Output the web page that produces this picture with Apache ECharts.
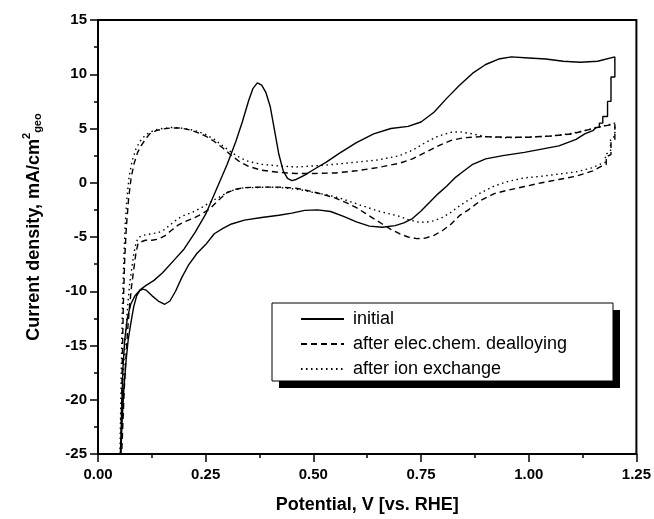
<!DOCTYPE html>
<html>
<head>
<meta charset="UTF-8">
<title>CV curves</title>
<script src="https://cdn.jsdelivr.net/npm/echarts/dist/echarts.min.js"></script>
<style>
  html, body { margin: 0; padding: 0; background: #fff; }
  #chart { width: 654px; height: 519px; }
</style>
</head>
<body>
<div id="chart"></div>
<script>
// Potential (V vs RHE) and current density (mA/cm2), one closed loop per curve
var initialE = [0.052, 0.055, 0.058, 0.062, 0.068, 0.076, 0.086, 0.097, 0.11, 0.13, 0.15, 0.175, 0.2, 0.225, 0.25, 0.275, 0.3, 0.32, 0.335, 0.35, 0.36, 0.37, 0.38, 0.39, 0.4, 0.41, 0.42, 0.43, 0.44, 0.45, 0.46, 0.48, 0.5, 0.53, 0.56, 0.6, 0.64, 0.68, 0.72, 0.75, 0.78, 0.81, 0.84, 0.87, 0.9, 0.93, 0.96, 1.0, 1.04, 1.08, 1.12, 1.16, 1.2,
  1.2, 1.191, 1.191, 1.183, 1.183, 1.172, 1.172, 1.164, 1.164, 1.156, 1.149,
  1.13, 1.11, 1.07, 1.03, 0.99, 0.94, 0.9, 0.87, 0.85, 0.83, 0.81, 0.79, 0.77, 0.75, 0.73, 0.71, 0.69, 0.66, 0.63, 0.6, 0.57, 0.54, 0.51, 0.48, 0.45, 0.42, 0.38, 0.34, 0.31, 0.29, 0.27, 0.25, 0.23, 0.21, 0.195, 0.18, 0.167, 0.155, 0.14, 0.125, 0.112, 0.104, 0.097, 0.09, 0.083, 0.076, 0.07, 0.065, 0.06, 0.056, 0.053];
var initialJ = [-25, -21, -17, -14.5, -12.5, -11.2, -10.4, -9.9, -9.5, -9.0, -8.3, -7.2, -6.1, -4.6, -2.9, -0.6, 1.7, 3.8, 5.6, 7.6, 8.7, 9.2, 9.0, 8.3, 7.0, 4.8, 2.6, 1.1, 0.4, 0.2, 0.3, 0.7, 1.2, 1.9, 2.7, 3.7, 4.5, 5.0, 5.2, 5.6, 6.5, 7.8, 9.0, 10.1, 10.9, 11.4, 11.6, 11.5, 11.4, 11.2, 11.1, 11.2, 11.6,
  9.75, 9.75, 7.5, 7.5, 6.1, 6.1, 5.5, 5.5, 5.1, 5.1, 4.8,
  4.5, 4.0, 3.4, 3.1, 2.8, 2.5, 2.2, 1.7, 1.1, 0.5, -0.3, -1.0, -1.8, -2.6, -3.3, -3.7, -3.95, -4.1, -4.0, -3.6, -3.1, -2.65, -2.5, -2.55, -2.8, -3.0, -3.2, -3.45, -3.8, -4.2, -4.7, -5.7, -6.5, -7.6, -8.7, -10.0, -10.9, -11.2, -10.9, -10.4, -9.9, -9.8, -9.95, -10.4, -11.4, -13.0, -14.5, -16.5, -19, -22, -25];

var dealloyE = [0.053, 0.055, 0.057, 0.059, 0.062, 0.066, 0.071, 0.077, 0.084, 0.092, 0.1, 0.11, 0.12, 0.135, 0.15, 0.17, 0.19, 0.21, 0.23, 0.25, 0.27, 0.29, 0.31, 0.33, 0.35, 0.38, 0.42, 0.46, 0.5, 0.55, 0.6, 0.65, 0.7, 0.73, 0.76, 0.79, 0.82, 0.85, 0.89, 0.95, 1.0, 1.05, 1.1, 1.14, 1.17, 1.2,
  1.2, 1.191, 1.191, 1.18, 1.18, 1.168, 1.149,
  1.11, 1.07, 1.03, 0.99, 0.95, 0.92, 0.89, 0.86, 0.84, 0.82, 0.8, 0.78, 0.76, 0.74, 0.72, 0.7, 0.68, 0.66, 0.64, 0.62, 0.6, 0.58, 0.55, 0.52, 0.49, 0.46, 0.42, 0.38, 0.34, 0.32, 0.3, 0.28, 0.26, 0.24, 0.22, 0.2, 0.186, 0.17, 0.155, 0.14, 0.125, 0.11, 0.1, 0.093, 0.088, 0.083, 0.078, 0.073, 0.069, 0.065, 0.061, 0.058, 0.055];
var dealloyJ = [-25, -20, -15, -11, -7, -4, -1.5, 0.5, 1.8, 2.8, 3.4, 4.0, 4.5, 4.8, 4.95, 5.05, 5.05, 4.9, 4.65, 4.3, 3.8, 3.2, 2.5, 1.9, 1.5, 1.15, 0.95, 0.85, 0.85, 0.9, 1.1, 1.4, 1.8, 2.2, 2.8, 3.4, 3.9, 4.15, 4.25, 4.2, 4.2, 4.3, 4.5, 4.9, 5.2, 5.4,
  4.0, 3.7, 2.6, 2.4, 1.7, 1.5, 1.1,
  0.6, 0.3, 0.0, -0.35, -0.7, -1.0, -1.6, -2.5, -3.0, -3.8, -4.4, -4.85, -5.1, -5.15, -5.0, -4.7, -4.3, -3.8, -3.3, -2.8, -2.3, -1.9, -1.4, -1.05, -0.75, -0.5, -0.4, -0.4, -0.45, -0.6, -0.9, -1.6, -2.4, -2.9, -3.3, -3.6, -3.9, -4.4, -4.9, -5.2, -5.3, -5.3, -5.45, -5.6, -6.5, -8.0, -9.5, -11.5, -13.5, -16, -19, -22, -25];

var ionE = [0.051, 0.053, 0.055, 0.057, 0.06, 0.063, 0.067, 0.072, 0.079, 0.088, 0.097, 0.108, 0.12, 0.135, 0.15, 0.17, 0.19, 0.21, 0.23, 0.25, 0.27, 0.29, 0.31, 0.33, 0.35, 0.38, 0.42, 0.46, 0.5, 0.55, 0.6, 0.65, 0.7, 0.73, 0.76, 0.79, 0.82, 0.84, 0.87, 0.9, 0.95, 1.0, 1.05, 1.1, 1.14, 1.17, 1.2,
  1.2, 1.19, 1.19, 1.178, 1.178, 1.165, 1.149,
  1.11, 1.07, 1.03, 0.99, 0.95, 0.92, 0.89, 0.86, 0.84, 0.82, 0.8, 0.78, 0.76, 0.74, 0.72, 0.7, 0.68, 0.65, 0.62, 0.59, 0.56, 0.53, 0.5, 0.47, 0.44, 0.4, 0.36, 0.34, 0.32, 0.3, 0.28, 0.26, 0.24, 0.22, 0.2, 0.186, 0.17, 0.155, 0.14, 0.125, 0.11, 0.1, 0.093, 0.088, 0.083, 0.078, 0.073, 0.069, 0.065, 0.061, 0.057, 0.053];
var ionJ = [-25, -20, -15, -11, -7, -4, -1.5, 0.5, 2.0, 3.1, 3.8, 4.3, 4.65, 4.9, 5.0, 5.1, 5.05, 4.95, 4.75, 4.45, 4.0, 3.4, 2.8, 2.3, 1.95, 1.7, 1.55, 1.45, 1.55, 1.7, 1.9, 2.1, 2.5, 3.0, 3.7, 4.3, 4.65, 4.7, 4.5, 4.25, 4.15, 4.2, 4.3, 4.55, 4.9, 5.2, 5.5,
  4.3, 4.0, 2.9, 2.6, 1.9, 1.7, 1.4,
  1.0, 0.8, 0.6, 0.45, 0.1, -0.3, -0.9, -1.6, -2.1, -2.7, -3.2, -3.5, -3.65, -3.6, -3.4, -3.1, -2.9, -2.6, -2.2, -1.8, -1.4, -1.1, -0.9, -0.65, -0.5, -0.4, -0.45, -0.45, -0.6, -0.9, -1.35, -1.8, -2.3, -2.7, -3.0, -3.3, -3.8, -4.3, -4.6, -4.7, -4.8, -4.9, -5.1, -5.6, -6.6, -8.0, -9.5, -11.3, -13.5, -16, -19, -22, -25];

var seriesNames = ['initial', 'after elec.chem. dealloying', 'after ion exchange'];
var xTicks = [0, 0.25, 0.5, 0.75, 1.0, 1.25];
var yTicks = [-25, -20, -15, -10, -5, 0, 5, 10, 15];

function pairs(xs, ys) {
  var out = [];
  for (var i = 0; i < xs.length; i++) out.push([xs[i], ys[i]]);
  return out;
}

var font = '"Liberation Sans", Arial, sans-serif';
var chart = echarts.init(document.getElementById('chart'));

var option = {
  animation: false,
  backgroundColor: '#fff',
  color: ['#000', '#000', '#000'],
  grid: {
    left: 98, right: 17, top: 20, bottom: 62,
    show: true, borderColor: '#000', borderWidth: 2, backgroundColor: 'transparent'
  },
  xAxis: {
    type: 'value',
    min: xTicks[0], max: xTicks[xTicks.length - 1], interval: 0.25,
    name: 'Potential, V [vs. RHE]',
    nameLocation: 'middle', nameGap: 42,
    nameTextStyle: { fontFamily: font, fontSize: 18, fontWeight: 'bold', color: '#000' },
    axisLine: { onZero: false, lineStyle: { color: '#000', width: 2 } },
    axisTick: { length: 8, lineStyle: { color: '#000', width: 1.5 } },
    minorTick: { show: true, splitNumber: 2, length: 4, lineStyle: { color: '#000', width: 1.5 } },
    axisLabel: {
      margin: 13, fontFamily: font, fontSize: 15, fontWeight: 'bold', color: '#000',
      formatter: function (v) { return v.toFixed(2); }
    },
    splitLine: { show: false }
  },
  yAxis: {
    type: 'value',
    min: yTicks[0], max: yTicks[yTicks.length - 1], interval: 5,
    name: '{m|Current density, mA/cm}{sup|2}{sub|geo}',
    nameLocation: 'middle', nameGap: 55, nameRotate: 90,
    nameTextStyle: {
      color: '#000',
      padding: [0, 0, 0, 20],
      rich: {
        m: { fontFamily: font, fontSize: 18, fontWeight: 'bold', lineHeight: 22, verticalAlign: 'bottom' },
        sup: { fontFamily: font, fontSize: 11, fontWeight: 'bold', lineHeight: 12, verticalAlign: 'top' },
        sub: { fontFamily: font, fontSize: 11, fontWeight: 'bold', lineHeight: 16, verticalAlign: 'bottom' }
      }
    },
    axisLine: { onZero: false, lineStyle: { color: '#000', width: 2 } },
    axisTick: { length: 8, lineStyle: { color: '#000', width: 1.5 } },
    minorTick: { show: true, splitNumber: 2, length: 4, lineStyle: { color: '#000', width: 1.5 } },
    axisLabel: { margin: 11, fontFamily: font, fontSize: 15, fontWeight: 'bold', color: '#000' },
    splitLine: { show: false }
  },
  legend: {
    orient: 'vertical',
    left: 300, top: 309,
    padding: 0,
    itemWidth: 43, itemHeight: 20, itemGap: 5,
    data: seriesNames,
    itemStyle: { color: 'transparent', borderColor: 'transparent', borderWidth: 0, opacity: 0 },
    textStyle: { fontFamily: font, fontSize: 18, color: '#000', lineHeight: 20, padding: [0, 0, 0, 4] },
    z: 10
  },
  graphic: [
    { type: 'rect', z: 5, shape: { x: 279, y: 310, width: 341, height: 78 }, style: { fill: '#000' } },
    { type: 'rect', z: 6, shape: { x: 272, y: 303, width: 341, height: 78 }, style: { fill: '#fff', stroke: '#000', lineWidth: 1 } }
  ],
  series: [
    {
      name: seriesNames[0], type: 'line', symbol: 'none',
      data: pairs(initialE, initialJ),
      itemStyle: { color: '#000' },
      lineStyle: { color: '#000', width: 1.4, type: 'solid' }
    },
    {
      name: seriesNames[1], type: 'line', symbol: 'none',
      data: pairs(dealloyE, dealloyJ),
      itemStyle: { color: '#000' },
      lineStyle: { color: '#000', width: 1.4, type: [6, 4] }
    },
    {
      name: seriesNames[2], type: 'line', symbol: 'none',
      data: pairs(ionE, ionJ),
      itemStyle: { color: '#000' },
      lineStyle: { color: '#000', width: 1.4, type: [1.5, 3.5] }
    }
  ]
};

chart.setOption(option);
</script>
</body>
</html>
